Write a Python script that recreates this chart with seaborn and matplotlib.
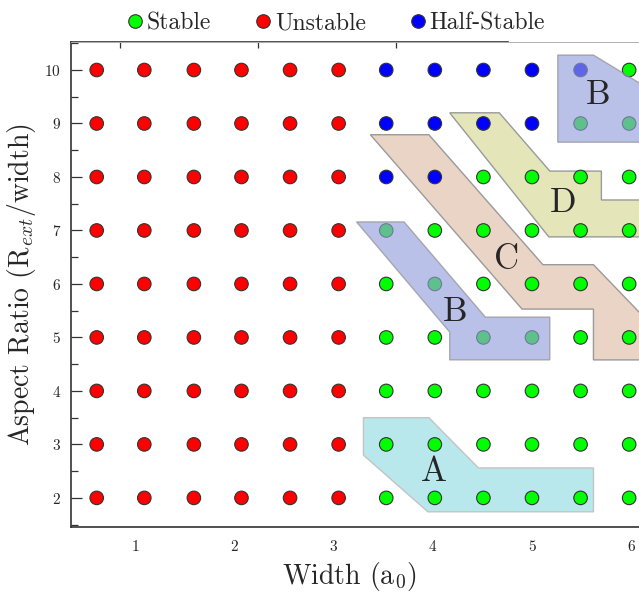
import matplotlib
matplotlib.use("Agg")
import matplotlib.pyplot as plt
from matplotlib.ticker import MultipleLocator
import seaborn as sns
import pandas as pd

# Grid of simulated ribbons: width (a0) x aspect ratio
widths = [0.61, 1.09, 1.59, 2.07, 2.56, 3.05, 3.53, 4.02, 4.51, 5.00, 5.49, 5.98]
aspect_ratios = [10, 9, 8, 7, 6, 5, 4, 3, 2]
# S = stable, U = unstable, H = half-stable (one row per aspect ratio, top to bottom)
state_rows = [
    "UUUUUUHHHHHS",
    "UUUUUUHHHHSS",
    "UUUUUUHHSSSS",
    "UUUUUUSSSSSS",
    "UUUUUUSSSSSS",
    "UUUUUUSSSSSS",
    "UUUUUUSSSSSS",
    "UUUUUUSSSSSS",
    "UUUUUUSSSSSS",
]
state_names = {"S": "Stable", "U": "Unstable", "H": "Half-Stable"}
state_order = ["Stable", "Unstable", "Half-Stable"]
state_colors = {"Stable": "#00ff00", "Unstable": "#ff0000", "Half-Stable": "#0000ff"}

# Highlighted regions (data coordinates)
region_a = [(3.30, 3.50), (3.96, 3.50), (4.46, 2.56), (5.62, 2.56),
            (5.62, 1.74), (3.95, 1.74), (3.30, 2.80)]
region_b_low = [(3.23, 7.16), (3.71, 7.16), (4.53, 5.38), (5.18, 5.38),
                (5.18, 4.58), (4.17, 4.58), (4.17, 5.10)]
region_b_high = [(5.26, 10.28), (5.62, 10.28), (6.40, 9.40), (6.40, 8.65),
                 (5.26, 8.65)]
region_c = [(3.37, 8.79), (3.96, 8.79), (5.11, 6.36), (5.62, 6.36),
            (6.03, 5.57), (6.40, 4.85), (6.40, 4.58), (5.62, 4.58),
            (5.62, 5.53), (4.90, 5.53)]
region_d = [(4.17, 9.20), (4.67, 9.20), (5.18, 8.11), (5.70, 8.11),
            (5.70, 7.57), (6.40, 7.57), (6.40, 6.88), (5.17, 6.88)]
region_labels = [("A", 4.01, 2.49), ("B", 4.22, 5.48), ("C", 4.74, 6.45),
                 ("D", 5.31, 7.51), ("B", 5.67, 9.53)]

records = []
for ar, row in zip(aspect_ratios, state_rows):
    for w, s in zip(widths, row):
        records.append({"width": w, "aspect": ar, "state": state_names[s]})
df = pd.DataFrame(records)

sns.set_style("white")
plt.rcParams["font.family"] = ["cmr10"]
plt.rcParams["mathtext.fontset"] = "cm"
plt.rcParams["axes.unicode_minus"] = False
plt.rcParams["axes.formatter.use_mathtext"] = True

fig = plt.figure(figsize=(6.39, 5.92), dpi=100)
ax = fig.add_axes([0.111, 0.110, 0.931, 0.819])

# Regions drawn beneath the points
ax.fill(*zip(*region_a), facecolor="#b8e7ec", edgecolor="#c4c4c4", lw=1.0, zorder=1)
ax.fill(*zip(*region_c), facecolor="#ead4c6", edgecolor="#9a9a9a", lw=1.0, zorder=1)
ax.fill(*zip(*region_d), facecolor="#e4e5b8", edgecolor="#9a9a9a", lw=1.0, zorder=1)

sns.scatterplot(data=df, x="width", y="aspect", hue="state", hue_order=state_order,
                palette=state_colors, s=95, edgecolor="#333333", linewidth=0.8,
                zorder=3, ax=ax)

# Translucent regions drawn over the points
for poly in (region_b_low, region_b_high):
    ax.fill(*zip(*poly), facecolor="#949fdb", alpha=0.64, edgecolor="#8a8a8a",
            lw=1.0, zorder=4)

for txt, x, y in region_labels:
    ax.text(x, y, txt, fontsize=25, ha="center", va="center", zorder=5)

ax.set_xlim(0.35, 6.35)
ax.set_ylim(1.458, 10.523)
ax.set_xticks([1, 2, 3, 4, 5, 6])
ax.set_yticks([2, 3, 4, 5, 6, 7, 8, 9, 10])
ax.yaxis.set_minor_locator(MultipleLocator(0.5))
ax.tick_params(axis="x", which="both", length=0, pad=9, labelsize=11, top=False)
ax.tick_params(axis="y", which="major", direction="in", length=8, width=0.9,
               color="#333333", pad=7, labelsize=11, left=True)
ax.tick_params(axis="y", which="minor", direction="in", length=5, width=0.9,
               color="#333333", left=True)

for side in ("left", "bottom"):
    ax.spines[side].set_color("#333333")
    ax.spines[side].set_linewidth(1.2)
ax.spines["right"].set_visible(False)
ax.spines["top"].set_color("#b0b0b0")
ax.spines["top"].set_linewidth(0.7)

secax = ax.secondary_xaxis("top")
secax.set_xticks([0.84, 2.24, 3.63])
secax.tick_params(direction="in", length=4, width=0.9, color="#333333",
                  labeltop=False)
secax.spines["top"].set_bounds(0.35, 4.76)
secax.spines["top"].set_color("#333333")
secax.spines["top"].set_linewidth(1.2)

ax.set_xlabel(r"Width (a$_0$)", fontsize=20)
ax.xaxis.set_label_coords(0.468, -0.102)
ax.xaxis.label.set_va("center")
ax.set_ylabel(r"Aspect Ratio (R$_{ext}$/width)", fontsize=20, labelpad=5)

sns.move_legend(ax, "center", bbox_to_anchor=(0.525, 0.961),
                bbox_transform=fig.transFigure, ncol=3, frameon=False,
                title=None, fontsize=17, columnspacing=1.8, handletextpad=0.1,
                handlelength=0.8, borderaxespad=0)

fig.savefig("out.png", dpi=100)
